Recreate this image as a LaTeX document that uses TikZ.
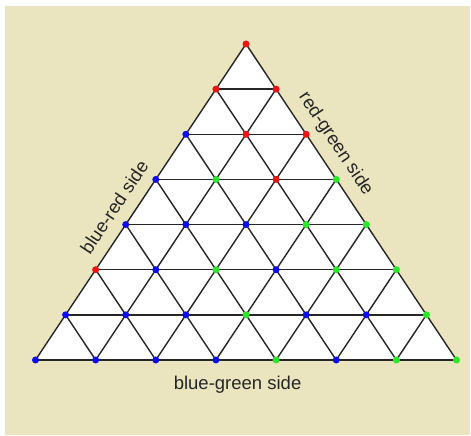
\documentclass[tikz,border=0pt]{standalone}
\usepackage{fontspec}
\setmainfont{Liberation Sans}
\usetikzlibrary{positioning}
\definecolor{paper}{RGB}{234,229,191}
\definecolor{dred}{RGB}{238,18,18}
\definecolor{dblue}{RGB}{12,12,240}
\definecolor{dgreen}{RGB}{40,232,40}

\begin{document}
\begin{tikzpicture}[x=1pt,y=1pt,
    every node/.style={font=\fontsize{18.5}{22}\selectfont,text=black!85},
    grid/.style={black!85,line width=1.4pt},
    dot/.style={circle,inner sep=0pt,minimum size=7pt},
]
% Background
\useasboundingbox (0,0) rectangle (471,436);
\fill[paper] (5,1) rectangle (470,430);
% Lattice points: row \r from the apex, \i from the left
\foreach \r in {0,...,7} {
    \foreach \i in {0,...,\r} {
        \coordinate (p\r-\i) at ({246+60.14*(\i-\r/2)},{392-45.14*\r});
    }
}
\fill[white] (p0-0) -- (p7-0) -- (p7-7) -- cycle;
% Grid lines
\foreach \r in {1,...,7}
    \draw[grid] (p\r-0) -- (p\r-\r);
\foreach \i in {0,...,6}
    \draw[grid] (p7-\i) -- (p\i-\i);
\foreach \k/\j in {0/7,1/6,2/5,3/4,4/3,5/2,6/1}
    \draw[grid] (p\k-0) -- (p7-\j);
% Coloured vertices
\foreach \r/\cols in {
    0/{dred},
    1/{dred,dred},
    2/{dblue,dred,dred},
    3/{dblue,dgreen,dred,dgreen},
    4/{dblue,dblue,dblue,dgreen,dgreen},
    5/{dred,dblue,dgreen,dblue,dgreen,dgreen},
    6/{dblue,dblue,dblue,dgreen,dblue,dblue,dgreen},
    7/{dblue,dblue,dblue,dblue,dgreen,dblue,dgreen,dgreen}%
} {
    \foreach \c [count=\i from 0] in \cols
        \node[dot,fill=\c] (d\r-\i) at (p\r-\i) {};
}
% Side labels
\path (p7-0) -- (p0-0) node[pos=0.45,sloped,above=9pt] (brside) {blue-red side};
\path (p0-0) -- (p7-7) node[pos=0.35,sloped,above=7pt] (rgside) {red-green side};
\path (p7-0) -- (p7-7) node[pos=0.48,below=13pt] (bgside) {blue-green side};
\end{tikzpicture}
\end{document}
